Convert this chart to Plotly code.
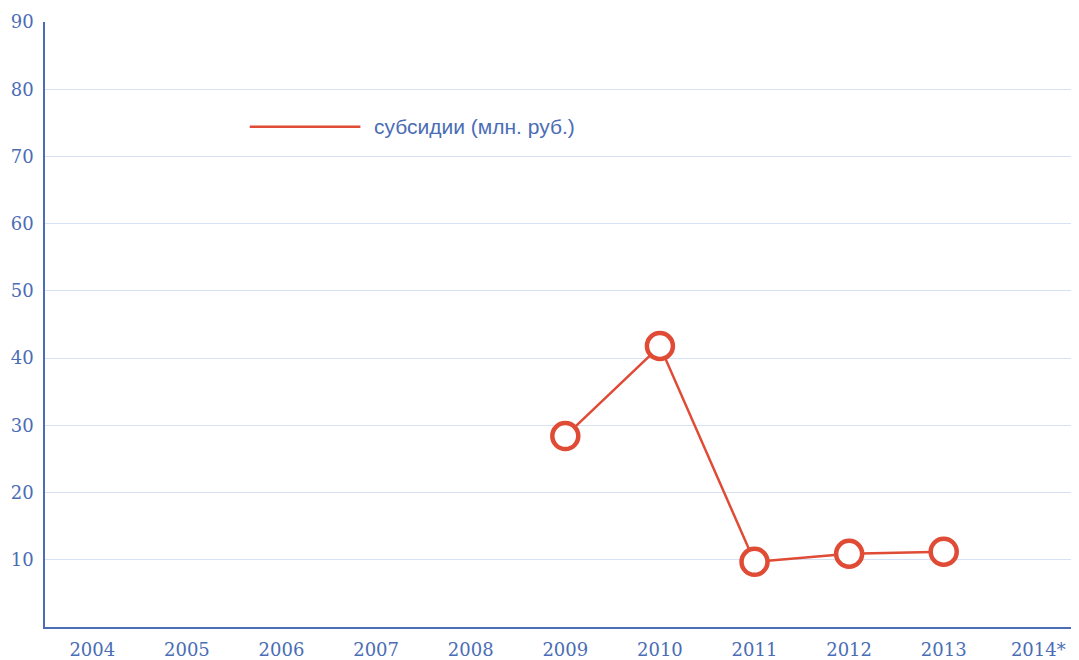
import plotly.graph_objects as go

years = ["2004", "2005", "2006", "2007", "2008", "2009", "2010", "2011", "2012", "2013", "2014*"]
subsidy_years = ["2009", "2010", "2011", "2012", "2013"]
subsidy_values = [28.4, 41.8, 9.7, 10.9, 11.2]
y_ticks = [10, 20, 30, 40, 50, 60, 70, 80, 90]
series_name = "субсидии (млн. руб.)"

blue = "#4a6db5"
red = "#e04b35"
grid = "#d6e2f3"
num_font = dict(family="DejaVu Serif", size=18, color=blue)

fig = go.Figure()
fig.add_trace(go.Scatter(
    x=subsidy_years, y=subsidy_values, mode="lines+markers", name=series_name,
    line=dict(color=red, width=2.5),
    marker=dict(symbol="circle", size=26, color="white", line=dict(color=red, width=4.5)),
    showlegend=False,
))

fig.add_shape(type="line", xref="paper", yref="paper", x0=0.198, x1=0.305, y0=0.827, y1=0.827,
              line=dict(color=red, width=2.5))
fig.add_annotation(xref="paper", yref="paper", x=0.316, y=0.827, xanchor="left", yanchor="middle",
                   text=series_name, showarrow=False,
                   font=dict(family="Liberation Sans", size=21, color=blue))

fig.update_layout(
    width=1071, height=652,
    margin=dict(l=37, r=0, t=14, b=33),
    paper_bgcolor="white", plot_bgcolor="white",
    xaxis=dict(
        type="category", categoryorder="array", categoryarray=years,
        tickvals=years, range=[-0.5, 10.43],
        showgrid=False, showline=True, linecolor=blue, linewidth=1.5,
        ticks="", tickfont=num_font, zeroline=False,
        ticklabelstandoff=6,
    ),
    yaxis=dict(
        range=[0, 90], tickvals=y_ticks, showgrid=False,
        showline=True, linecolor=blue, linewidth=1.5,
        ticks="", tickfont=num_font, zeroline=False,
        ticklabelstandoff=6,
        minor=dict(tickvals=y_ticks[:-1], showgrid=True, gridcolor=grid, gridwidth=1, ticks=""),
    ),
)

fig.write_html("out.html")
